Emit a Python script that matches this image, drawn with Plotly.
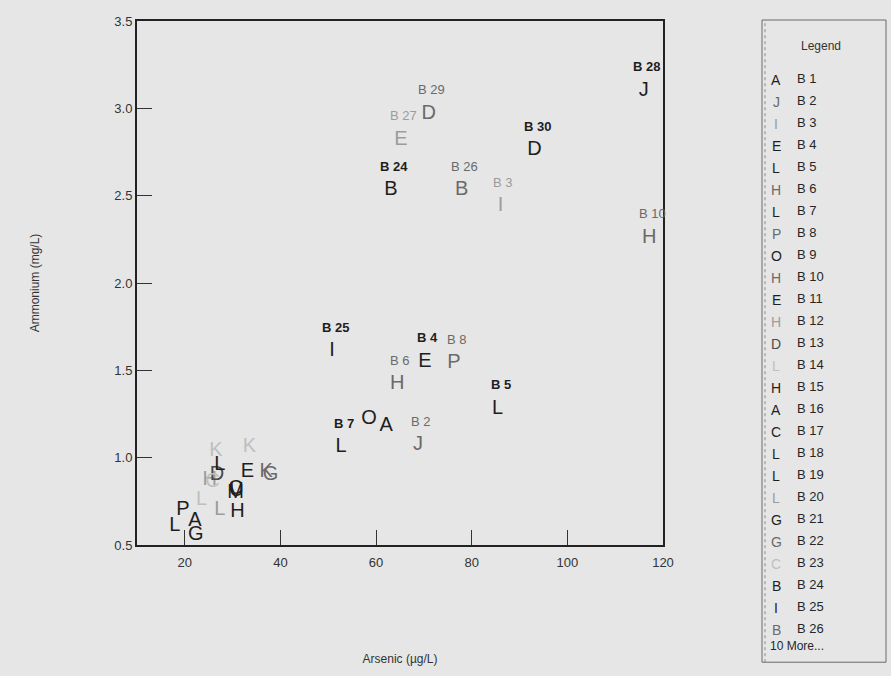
import plotly.graph_objects as go

# ---------------- data ----------------
series = [f"B {i}" for i in range(1, 37)]
letters = ["A", "J", "I", "E", "L", "H", "L", "P", "O", "H",
           "E", "H", "D", "L", "H", "A", "C", "L", "L", "L",
           "G", "G", "C", "B", "I", "B", "E", "J", "D", "D",
           "K", "K", "M", "U", "P", "K"]
shades = ["dark", "gray", "light", "dark", "dark", "gray", "dark", "gray", "dark", "gray",
          "dark", "light", "mid", "faint", "dark", "dark", "dark", "dark", "dark", "light",
          "dark", "gray", "faint", "dark", "dark", "gray", "light", "dark", "gray", "dark",
          "faint", "gray", "dark", "dark", "dark", "faint"]
arsenic = [62.1, 68.75, 86.0, 70.2, 85.4, 64.4, 52.7, 76.3, 58.5, 117.1,
           33.1, 25.2, 26.7, 23.5, 31.0, 22.1, 30.6, 17.9, 27.3, 27.3,
           22.3, 37.9, 25.8, 63.1, 50.8, 77.9, 65.2, 116.0, 71.0, 93.1,
           26.5, 37.0, 30.6, 30.8, 19.6, 33.5]
ammonium = [1.18, 1.07, 2.44, 1.55, 1.28, 1.42, 1.06, 1.54, 1.22, 2.26,
            0.92, 0.87, 0.90, 0.76, 0.69, 0.64, 0.82, 0.61, 0.96, 0.70,
            0.56, 0.90, 0.86, 2.53, 1.61, 2.53, 2.82, 3.10, 2.97, 2.76,
            1.04, 0.92, 0.80, 0.81, 0.70, 1.06]
labeled = ["B 2", "B 3", "B 4", "B 5", "B 6", "B 7", "B 8", "B 10",
           "B 24", "B 25", "B 26", "B 27", "B 28", "B 29", "B 30"]
legend_count = 26
x_ticks = [20, 40, 60, 80, 100, 120]
y_ticks = [0.5, 1.0, 1.5, 2.0, 2.5, 3.0, 3.5]

# ---------------- style ----------------
W, H = 891, 676
L_, R_, T_, B_ = 137, 228, 21, 123
BG = "#e6e6e6"
FONT = "Liberation Sans, Arial, sans-serif"
COL = {"dark": "#1e1e1e", "mid": "#4a4a4a", "gray": "#6a6a6a",
       "light": "#9c9c9c", "faint": "#bfbfbf"}

fig = go.Figure()

for name, let, sh, xv, yv in zip(series, letters, shades, arsenic, ammonium):
    fig.add_trace(go.Scatter(
        x=[xv], y=[yv], mode="text", text=[let], name=name,
        textposition="middle center",
        textfont=dict(family=FONT, size=20, color=COL[sh]),
        showlegend=False, hoverinfo="x+y+name"))
    if name in labeled:
        fig.add_annotation(
            x=xv, y=yv, xref="x", yref="y", text=name,
            showarrow=False, yshift=24, xshift=3,
            xanchor="center", yanchor="middle",
            font=dict(family=FONT, size=13, color=COL[sh],
                      weight="bold" if sh == "dark" else "normal"))

pw = W - L_ - R_
ph = H - T_ - B_


def px(xp):
    return (xp - L_) / pw


def py(yp):
    return (H - B_ - yp) / ph


# legend box
fig.add_shape(type="rect", xref="paper", yref="paper",
              x0=px(762), x1=px(886), y0=py(672), y1=py(20),
              line=dict(color="#6a6a6a", width=1), fillcolor=BG, layer="below")
fig.add_shape(type="line", xref="paper", yref="paper",
              x0=px(765), x1=px(765), y0=py(672), y1=py(20),
              line=dict(color="#8a8a8a", width=1, dash="dot"))
fig.add_annotation(xref="paper", yref="paper", x=px(821), y=py(46),
                   xanchor="center", yanchor="middle",
                   text="Legend", showarrow=False,
                   font=dict(family=FONT, size=12, color="#333333"))
for i in range(legend_count):
    yy = 79 + i * 22.35
    fig.add_annotation(xref="paper", yref="paper", x=px(776), y=py(yy + 2),
                       xanchor="center", yanchor="middle",
                       text=letters[i], showarrow=False,
                       font=dict(family=FONT, size=14, color=COL[shades[i]]))
    fig.add_annotation(xref="paper", yref="paper", x=px(795), y=py(yy),
                       xanchor="left", yanchor="middle",
                       text=series[i], showarrow=False,
                       font=dict(family=FONT, size=13, color="#262626"))
fig.add_annotation(xref="paper", yref="paper", x=px(768), y=py(656),
                   xanchor="left", yanchor="middle",
                   text=f"{len(series) - legend_count} More...",
                   showarrow=False, font=dict(family=FONT, size=12, color="#262626"))

axis_common = dict(showgrid=False, zeroline=False, showline=True, mirror=True,
                   linecolor="#222222", linewidth=2, ticks="inside", ticklen=15,
                   tickcolor="#333333", tickwidth=1,
                   tickfont=dict(family=FONT, size=13, color="#333333"))

fig.update_layout(
    width=W, height=H,
    paper_bgcolor=BG, plot_bgcolor=BG,
    margin=dict(l=L_, r=R_, t=T_, b=B_),
    font=dict(family=FONT),
    xaxis=dict(range=[10, 120], tickvals=x_ticks, ticktext=[str(v) for v in x_ticks],
               ticklabelstandoff=4,
               title=dict(text="Arsenic (µg/L)", standoff=86,
                          font=dict(family=FONT, size=12, color="#333333")),
               **axis_common),
    yaxis=dict(range=[0.5, 3.5], tickvals=y_ticks, ticktext=[f"{v:.1f}" for v in y_ticks],
               title=dict(text="Ammonium (mg/L)", standoff=72,
                          font=dict(family=FONT, size=12, color="#333333")),
               **axis_common),
    showlegend=False,
)

fig.write_html("out.html", config={"displayModeBar": False},
               post_script="document.body.style.margin='0';document.body.style.background='#e6e6e6';")
